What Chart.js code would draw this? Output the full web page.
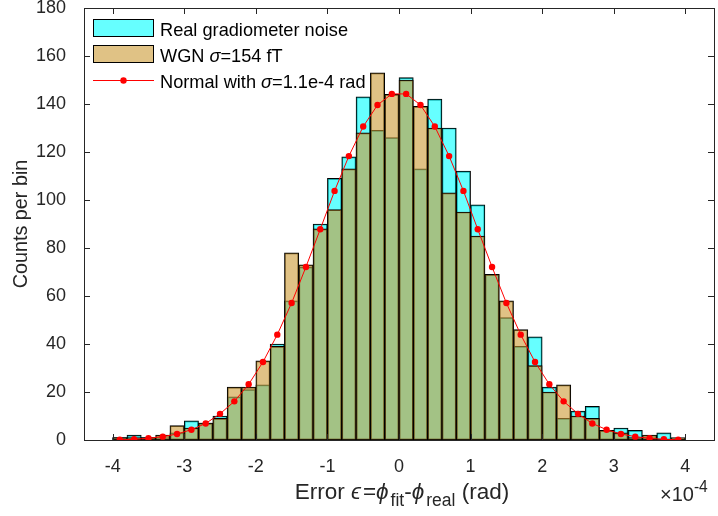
<!DOCTYPE html>
<html>
<head>
<meta charset="utf-8">
<script src="https://cdn.jsdelivr.net/npm/chart.js@4.4.0/dist/chart.umd.min.js"></script>
<style>
  html, body { margin: 0; padding: 0; background: #fff; }
  #wrap { width: 718px; height: 516px; }
</style>
</head>
<body>
<div id="wrap"><canvas id="c" width="718" height="516"></canvas></div>
<script>
// bin centres, in units of 1e-4 rad
const binCenters = [-3.9, -3.7, -3.5, -3.3, -3.1, -2.9, -2.7, -2.5, -2.3, -2.1,
  -1.9, -1.7, -1.5, -1.3, -1.1, -0.9, -0.7, -0.5, -0.3, -0.1,
  0.1, 0.3, 0.5, 0.7, 0.9, 1.1, 1.3, 1.5, 1.7, 1.9,
  2.1, 2.3, 2.5, 2.7, 2.9, 3.1, 3.3, 3.5, 3.7, 3.9]
const realCounts = [1, 2, 1, 1, 3, 8, 7, 10, 18, 21,
  23, 40, 58, 72, 90, 109, 118, 143, 129, 126,
  151, 113, 142, 130, 112, 98, 69, 51, 39, 43,
  22, 9, 12, 14, 4, 5, 4, 1, 3, 0]
const wgnCounts = [1, 1, 1, 2, 6, 5, 7, 9, 22, 22,
  33, 39, 78, 73, 88, 96, 113, 128, 153, 144,
  150, 139, 130, 103, 95, 85, 69, 58, 46, 31,
  20, 23, 10, 9, 4, 3, 1, 2, 0, 1]
const normalFit = [0.1, 0.3, 0.7, 1.4, 2.5, 4.3, 6.9, 10.9, 16.1, 23.2,
  32.5, 43.9, 57.1, 72.1, 87.8, 103.8, 118.3, 130.6, 139.6, 144.2,
  144.2, 139.6, 130.6, 118.3, 103.8, 87.8, 72.1, 57.1, 43.9, 32.5,
  23.2, 16.1, 10.9, 6.9, 4.3, 2.5, 1.4, 0.7, 0.3, 0.1]
const xTicks = [-4, -3, -2, -1, 0, 1, 2, 3, 4]
const yTicks = [0, 20, 40, 60, 80, 100, 120, 140, 160, 180]

const LEGEND = [
  [['Real gradiometer noise', '']],
  [['WGN ', ''], ['σ', 'i'], ['=154 fT', '']],
  [['Normal with ', ''], ['σ', 'i'], ['=1.1e-4 rad', '']],
]
const X_TITLE = [['Error ', ''], ['ϵ', 'i'], ['=', ''], ['ϕ', 'i'], ['fit', 'sub'], ['-', ''],
  ['ϕ', 'i'], ['real', 'sub'], [' (rad)', '']]
const X_EXP = [['×10', ''], ['-4', 'sup']]

const FONT = '"Liberation Sans", Arial, Helvetica, sans-serif'
const INK = '#262626'
const CYAN = 'rgba(0,255,255,0.6)'
const TAN = 'rgba(204,153,51,0.6)'

const pts = ys => binCenters.map((x, i) => ({ x, y: ys[i] }))

// text with italic / sub / sup pieces
function rich(ctx, parts, x, y, size, gap, measureOnly) {
  let cx = x
  parts.forEach(([t, s]) => {
    const small = s === 'sub' || s === 'sup'
    const sz = small ? size * 0.78 : size
    ctx.font = `${s === 'i' ? 'italic ' : ''}${sz}px ${FONT}`
    const dy = s === 'sub' ? size * 0.32 : (s === 'sup' ? -size * 0.45 : 0)
    if (!measureOnly) ctx.fillText(t, cx, y + dy)
    cx += ctx.measureText(t).width + (s === 'i' ? gap : 0)
  })
  return cx - x
}

const frame = {
  id: 'frame',
  afterDatasetsDraw(chart) {
    const { ctx, chartArea: a, scales: { x, y } } = chart
    ctx.save()
    ctx.strokeStyle = INK
    ctx.lineWidth = 1
    ctx.beginPath()
    xTicks.forEach(v => {
      const px = Math.round(x.getPixelForValue(v)) + 0.5
      ctx.moveTo(px, a.bottom); ctx.lineTo(px, a.bottom - 6)
      ctx.moveTo(px, a.top); ctx.lineTo(px, a.top + 6)
    })
    yTicks.forEach(v => {
      const py = Math.round(y.getPixelForValue(v)) + 0.5
      ctx.moveTo(a.left, py); ctx.lineTo(a.left + 6, py)
      ctx.moveTo(a.right, py); ctx.lineTo(a.right - 6, py)
    })
    ctx.stroke()
    ctx.strokeRect(Math.round(a.left) + 0.5, Math.round(a.top) + 0.5,
      Math.round(a.right - a.left), Math.round(a.bottom - a.top))
    ctx.restore()
  },
  afterDraw(chart) {
    const { ctx } = chart
    ctx.save()
    ctx.fillStyle = '#000'
    ctx.textBaseline = 'alphabetic'

    // legend
    const sx = 93, sw = 61, tx = 160
    const swatches = [CYAN, TAN]
    swatches.forEach((c, i) => {
      const top = 19 + i * 26
      ctx.fillStyle = '#fff'
      ctx.fillRect(sx, top, sw, 18)
      ctx.fillStyle = c
      ctx.fillRect(sx, top, sw, 18)
      ctx.strokeStyle = '#000'
      ctx.lineWidth = 1
      ctx.strokeRect(sx + 0.5, top + 0.5, sw - 1, 17)
    })
    ctx.strokeStyle = '#ff0000'
    ctx.beginPath(); ctx.moveTo(sx, 80.5); ctx.lineTo(sx + sw, 80.5); ctx.stroke()
    ctx.fillStyle = '#ff0000'
    ctx.beginPath(); ctx.arc(sx + sw / 2, 80.5, 3.2, 0, Math.PI * 2); ctx.fill()
    ctx.fillStyle = '#000'
    LEGEND.forEach((parts, i) => rich(ctx, parts, tx, 36 + i * 26, 18.2, 0))

    // x title and exponent
    ctx.fillStyle = INK
    const w = rich(ctx, X_TITLE, 0, 0, 22.5, 2, true)
    rich(ctx, X_TITLE, 402 - w / 2, 499, 22.5, 2)
    rich(ctx, X_EXP, 660, 501, 20, 0)
    ctx.restore()
  }
}

new Chart(document.getElementById('c'), {
  type: 'bar',
  data: {
    datasets: [
      {
        type: 'line',
        label: 'Normal fit',
        data: pts(normalFit),
        borderColor: '#ff0000',
        backgroundColor: '#ff0000',
        borderWidth: 1,
        pointRadius: 3.2,
        pointBorderWidth: 0,
        pointBackgroundColor: '#ff0000',
        tension: 0,
        order: 0,
      },
      {
        label: 'WGN',
        data: pts(wgnCounts),
        backgroundColor: TAN,
        borderColor: '#000',
        borderWidth: 1,
        borderSkipped: false,
        barPercentage: 1,
        categoryPercentage: 1,
        grouped: false,
        order: 1,
      },
      {
        label: 'Real gradiometer noise',
        data: pts(realCounts),
        backgroundColor: CYAN,
        borderColor: '#000',
        borderWidth: 1,
        borderSkipped: false,
        barPercentage: 1,
        categoryPercentage: 1,
        grouped: false,
        order: 2,
      },
    ],
  },
  options: {
    responsive: false,
    animation: false,
    devicePixelRatio: 1,
    layout: { padding: { top: 8, right: 4, left: 0, bottom: 0 } },
    plugins: { legend: { display: false }, tooltip: { enabled: false } },
    scales: {
      x: {
        type: 'linear',
        min: -4.4,
        max: 4.4,
        offset: false,
        grid: { display: false },
        border: { display: false },
        afterBuildTicks: s => { s.ticks = xTicks.map(v => ({ value: v })) },
        afterFit: s => { s.height = 76; s.paddingLeft = 0; s.paddingRight = 0 },
        ticks: {
          color: INK,
          font: { family: FONT, size: 18 },
          padding: 8,
          maxRotation: 0,
          callback: v => String(v),
        },
      },
      y: {
        min: 0,
        max: 180,
        grid: { display: false },
        border: { display: false },
        afterBuildTicks: s => { s.ticks = yTicks.map(v => ({ value: v })) },
        afterFit: s => { s.width = 84; s.paddingTop = 0; s.paddingBottom = 0 },
        ticks: {
          color: INK,
          font: { family: FONT, size: 18 },
          padding: 10,
          callback: v => String(v),
        },
        title: {
          display: true,
          text: 'Counts per bin',
          color: INK,
          font: { family: FONT, size: 19.8 },
          padding: { top: 10, bottom: 0 },
        },
      },
    },
  },
  plugins: [frame],
})
</script>
</body>
</html>
